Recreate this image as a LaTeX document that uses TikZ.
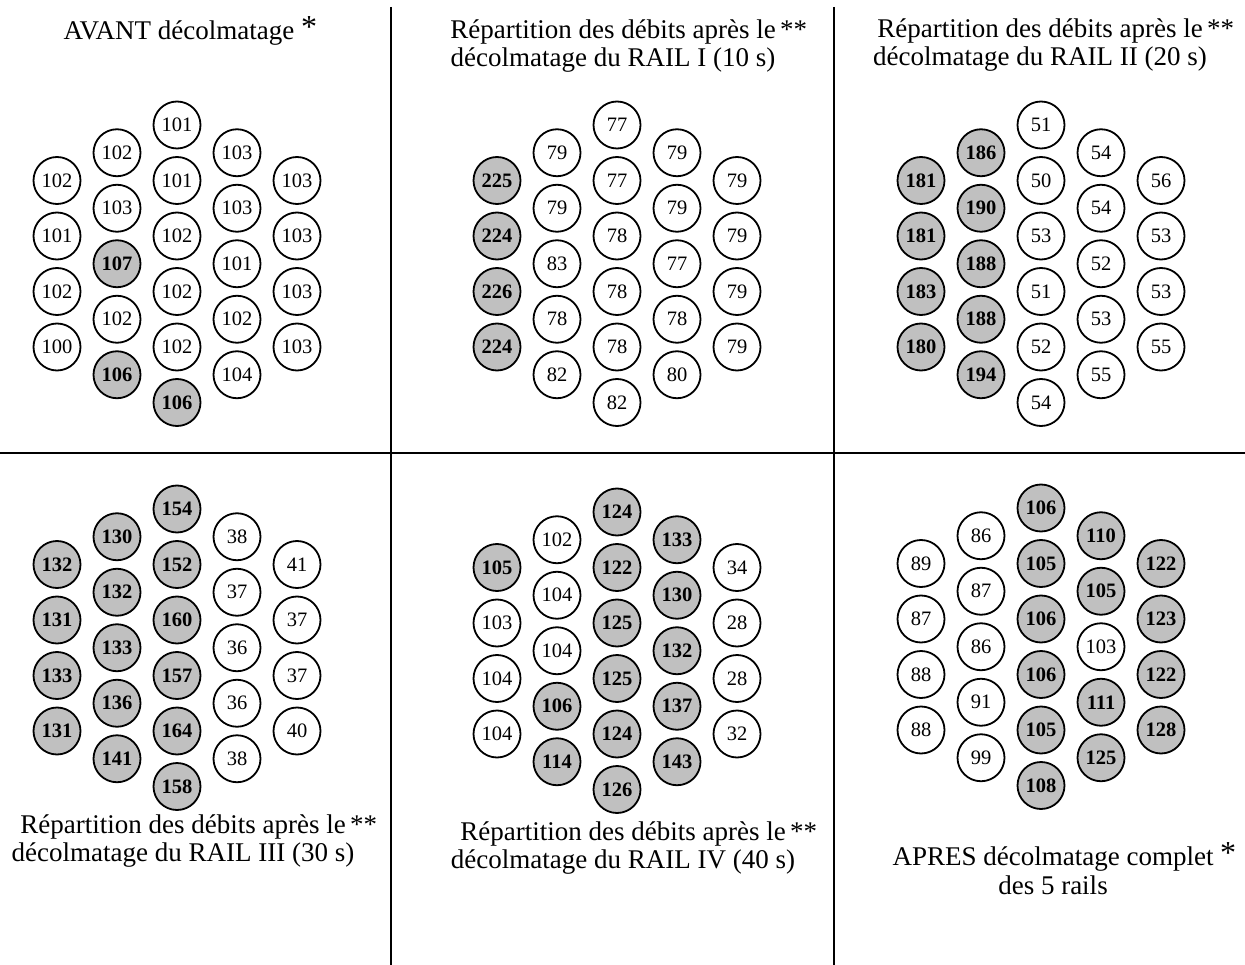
\documentclass[tikz,border=0pt]{standalone}
\usepackage{fontspec}
\setmainfont{Liberation Serif}
\definecolor{grisdebit}{RGB}{192,192,192}

% 一列喷嘴: #1 面板, #2 中心x, #3 顶端y, #4 列号, #5 数值/状态
\newcommand{\railbuse}[5]{%
  \foreach \v/\s [count=\i] in {#5} {
    \node[tube, etat-\s] (#1-#4-\i) at ({#2+(#4-3)*60}, {#3+abs(#4-3)*27.75+(\i-1)*55.5}) {\v};
  }%
}

\begin{document}
\begin{tikzpicture}[x=1pt, y=-1pt,
    tube/.style={circle, draw, line width=1.8pt, minimum size=47pt, inner sep=0pt,
      font=\fontsize{20.5}{22}\selectfont},
    etat-c/.style={fill=white},
    etat-f/.style={fill=grisdebit, font=\fontsize{20.5}{22}\selectfont\bfseries},
    titre/.style={anchor=base, inner sep=0pt, font=\fontsize{27}{29}\selectfont}]
  \useasboundingbox (0,0) rectangle (1245,965);

  % 1. 分隔线
  \coordinate (v1h) at (391,7);  \coordinate (v1b) at (391,965);
  \coordinate (v2h) at (834,7);  \coordinate (v2b) at (834,965);
  \coordinate (hg) at (0,453);   \coordinate (hd) at (1245,453);
  \draw[line width=1.8pt] (v1h) -- (v1b) (v2h) -- (v2b) (hg) -- (hd);

  % 2. 标题
  \node[titre] (t1) at (179,40) {AVANT décolmatage\rlap{\ \raisebox{2pt}{\fontsize{32}{32}\selectfont *}}};
  \node[titre] (t2a) at (613,39) {Répartition des débits après le\rlap{\,**}};
  \node[titre] (t2b) at (613,67) {décolmatage du RAIL I (10 s)};
  \node[titre] (t3a) at (1040,38) {Répartition des débits après le\rlap{\,**}};
  \node[titre] (t3b) at (1040,66) {décolmatage du RAIL II (20 s)};
  \node[titre] (t4a) at (183,833) {Répartition des débits après le\rlap{\,**}};
  \node[titre] (t4b) at (183,861) {décolmatage du RAIL III (30 s)};
  \node[titre] (t5a) at (623,840) {Répartition des débits après le\rlap{\,**}};
  \node[titre] (t5b) at (623,868) {décolmatage du RAIL IV (40 s)};
  \node[titre] (t6a) at (1053,865) {APRES décolmatage complet\rlap{\ \raisebox{2pt}{\fontsize{32}{32}\selectfont *}}};
  \node[titre] (t6b) at (1053,894) {des 5 rails};

  % 3. AVANT 
  \railbuse{p1}{177}{125}{1}{102/c,101/c,102/c,100/c}
  \railbuse{p1}{177}{125}{2}{102/c,103/c,107/f,102/c,106/f}
  \railbuse{p1}{177}{125}{3}{101/c,101/c,102/c,102/c,102/c,106/f}
  \railbuse{p1}{177}{125}{4}{103/c,103/c,101/c,102/c,104/c}
  \railbuse{p1}{177}{125}{5}{103/c,103/c,103/c,103/c}

  % 4. RAIL I (10 s)
  \railbuse{p2}{617}{125}{1}{225/f,224/f,226/f,224/f}
  \railbuse{p2}{617}{125}{2}{79/c,79/c,83/c,78/c,82/c}
  \railbuse{p2}{617}{125}{3}{77/c,77/c,78/c,78/c,78/c,82/c}
  \railbuse{p2}{617}{125}{4}{79/c,79/c,77/c,78/c,80/c}
  \railbuse{p2}{617}{125}{5}{79/c,79/c,79/c,79/c}

  % 5. RAIL II (20 s)
  \railbuse{p3}{1041}{125}{1}{181/f,181/f,183/f,180/f}
  \railbuse{p3}{1041}{125}{2}{186/f,190/f,188/f,188/f,194/f}
  \railbuse{p3}{1041}{125}{3}{51/c,50/c,53/c,51/c,52/c,54/c}
  \railbuse{p3}{1041}{125}{4}{54/c,54/c,52/c,53/c,55/c}
  \railbuse{p3}{1041}{125}{5}{56/c,53/c,53/c,55/c}

  % 6. RAIL III (30 s)
  \railbuse{p4}{177}{509}{1}{132/f,131/f,133/f,131/f}
  \railbuse{p4}{177}{509}{2}{130/f,132/f,133/f,136/f,141/f}
  \railbuse{p4}{177}{509}{3}{154/f,152/f,160/f,157/f,164/f,158/f}
  \railbuse{p4}{177}{509}{4}{38/c,37/c,36/c,36/c,38/c}
  \railbuse{p4}{177}{509}{5}{41/c,37/c,37/c,40/c}

  % 7. RAIL IV (40 s)
  \railbuse{p5}{617}{512}{1}{105/f,103/c,104/c,104/c}
  \railbuse{p5}{617}{512}{2}{102/c,104/c,104/c,106/f,114/f}
  \railbuse{p5}{617}{512}{3}{124/f,122/f,125/f,125/f,124/f,126/f}
  \railbuse{p5}{617}{512}{4}{133/f,130/f,132/f,137/f,143/f}
  \railbuse{p5}{617}{512}{5}{34/c,28/c,28/c,32/c}

  % 8. APRES
  \railbuse{p6}{1041}{508}{1}{89/c,87/c,88/c,88/c}
  \railbuse{p6}{1041}{508}{2}{86/c,87/c,86/c,91/c,99/c}
  \railbuse{p6}{1041}{508}{3}{106/f,105/f,106/f,106/f,105/f,108/f}
  \railbuse{p6}{1041}{508}{4}{110/f,105/f,103/c,111/f,125/f}
  \railbuse{p6}{1041}{508}{5}{122/f,123/f,122/f,128/f}
\end{tikzpicture}
\end{document}
